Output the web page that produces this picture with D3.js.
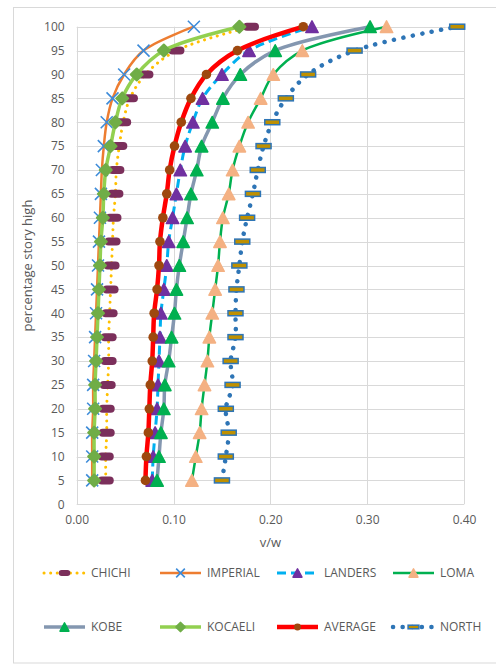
<!DOCTYPE html>
<html><head><meta charset="utf-8">
<script src="https://cdn.jsdelivr.net/npm/d3@7"></script>
<style>html,body{margin:0;padding:0;background:#fff;}svg{display:block;font-family:"Open Sans",sans-serif;}</style>
</head><body>
<svg id="c" width="496" height="665"></svg>
<script>
const heights = [5,10,15,20,25,30,35,40,45,50,55,60,65,70,75,80,85,90,95,100];
const chichi   = [0.030,0.030,0.031,0.031,0.032,0.033,0.033,0.034,0.035,0.036,0.037,0.038,0.040,0.041,0.044,0.048,0.055,0.071,0.103,0.180];
const imperial = [0.016,0.016,0.016,0.017,0.017,0.018,0.019,0.020,0.021,0.022,0.023,0.024,0.025,0.026,0.028,0.031,0.037,0.049,0.069,0.121];
const landers  = [0.078,0.079,0.081,0.083,0.084,0.085,0.086,0.087,0.090,0.093,0.095,0.099,0.103,0.107,0.112,0.120,0.130,0.150,0.178,0.243];
const loma     = [0.119,0.123,0.127,0.129,0.132,0.135,0.137,0.140,0.143,0.146,0.148,0.151,0.157,0.161,0.168,0.177,0.190,0.203,0.233,0.320];
const kobe     = [0.083,0.085,0.087,0.090,0.091,0.095,0.098,0.101,0.103,0.106,0.110,0.114,0.118,0.124,0.129,0.140,0.151,0.169,0.205,0.303];
const kocaeli  = [0.018,0.018,0.018,0.019,0.019,0.020,0.021,0.022,0.023,0.024,0.025,0.027,0.028,0.030,0.035,0.040,0.047,0.062,0.090,0.168];
const average  = [0.071,0.072,0.074,0.075,0.076,0.078,0.079,0.080,0.083,0.085,0.086,0.089,0.093,0.096,0.101,0.108,0.118,0.134,0.166,0.234];
const north    = [0.150,0.154,0.157,0.154,0.161,0.159,0.164,0.164,0.165,0.168,0.171,0.176,0.182,0.187,0.193,0.202,0.216,0.239,0.287,0.393];
const seriesNames = ["CHICHI","IMPERIAL","LANDERS","LOMA","KOBE","KOCAELI","AVERAGE","NORTH"];
const xTicks = [0,0.1,0.2,0.3,0.4];
const yTicks = [0,5,10,15,20,25,30,35,40,45,50,55,60,65,70,75,80,85,90,95,100];

const styles = {
  CHICHI:  {line:"#FFC000", w:3, dash:"0.1 6.5", cap:"round", marker:"pill", fill:"#7B2F5B"},
  IMPERIAL:{line:"#ED7D31", w:2.5, dash:null, marker:"x", fill:"#3D8BD9"},
  LANDERS: {line:"#00B0F0", w:3, dash:"9 5", marker:"tri", fill:"#7030A0"},
  LOMA:    {line:"#00B050", w:2.5, dash:null, marker:"tri", fill:"#F4B183"},
  KOBE:    {line:"#8497B0", w:3.5, dash:null, marker:"tri", fill:"#00B050"},
  KOCAELI: {line:"#92D050", w:3.5, dash:null, marker:"diamond", fill:"#70AD47"},
  AVERAGE: {line:"#FF0000", w:4.5, dash:null, marker:"circle", fill:"#9E480E"},
  NORTH:   {line:"#2E75B6", w:4.5, dash:"0.1 9.5", cap:"round", marker:"bar", fill:"#BF9000"}
};
const data = {CHICHI:chichi, IMPERIAL:imperial, LANDERS:landers, LOMA:loma, KOBE:kobe, KOCAELI:kocaeli, AVERAGE:average, NORTH:north};

const svg = d3.select("#c");
const x = d3.scaleLinear().domain([0,0.4]).range([76.7,464]);
const y = d3.scaleLinear().domain([0,100]).range([504.3,26.7]);

// chart frame
svg.append("rect").attr("x",13.5).attr("y",7.5).attr("width",600).attr("height",655.5)
  .attr("fill","none").attr("stroke","#D9D9D9").attr("stroke-width",1);

// gridlines
const g = svg.append("g");
g.selectAll(".hg").data(yTicks).join("line")
  .attr("x1",x(0)).attr("x2",x(0.4)).attr("y1",d=>Math.round(y(d))+0.5).attr("y2",d=>Math.round(y(d))+0.5)
  .attr("stroke","#D9D9D9").attr("stroke-width",1);
g.selectAll(".vg").data(xTicks).join("line")
  .attr("y1",y(0)).attr("y2",y(100)).attr("x1",d=>Math.round(x(d))+0.5).attr("x2",d=>Math.round(x(d))+0.5)
  .attr("stroke","#D9D9D9").attr("stroke-width",1);

// axes
const ya = svg.append("g").attr("transform",`translate(${x(0)},0)`)
  .call(d3.axisLeft(y).tickValues(yTicks).tickSize(0).tickPadding(12).tickFormat(d3.format("d")));
ya.select(".domain").remove();
const xa = svg.append("g").attr("transform",`translate(0,${y(0)})`)
  .call(d3.axisBottom(x).tickValues(xTicks).tickSize(0).tickPadding(11).tickFormat(d3.format(".2f")));
xa.select(".domain").remove();
svg.selectAll(".tick text").attr("fill","#595959").style("font-size","12px").style("font-family","'Open Sans',sans-serif");

svg.append("text").attr("x",(x(0)+x(0.4))/2).attr("y",547).attr("text-anchor","middle")
  .attr("fill","#595959").style("font-size","13px").text("v/w");
svg.append("text").attr("transform",`translate(32,${(y(0)+y(100))/2}) rotate(-90)`).attr("text-anchor","middle")
  .attr("fill","#595959").style("font-size","13px").text("percentage story high");

function drawMarker(sel, type, fill, cx, cy, scale){
  const s = scale||1;
  if(type==="pill"){
    sel.append("rect").attr("x",cx-8*s).attr("y",cy-4*s).attr("width",16*s).attr("height",8*s).attr("rx",4*s).attr("fill",fill);
  } else if(type==="x"){
    const r=6*s;
    sel.append("path").attr("d",`M${cx-r},${cy-r}L${cx+r},${cy+r}M${cx-r},${cy+r}L${cx+r},${cy-r}`)
      .attr("stroke",fill).attr("stroke-width",1.6).attr("fill","none");
  } else if(type==="tri"){
    const w=6.2*s, h=5.8*s;
    sel.append("path").attr("d",`M${cx},${cy-h}L${cx+w},${cy+h}L${cx-w},${cy+h}Z`).attr("fill",fill)
      .attr("stroke",fill).attr("stroke-width",1.5).attr("stroke-linejoin","round");
  } else if(type==="diamond"){
    const r=6*s;
    sel.append("path").attr("d",`M${cx},${cy-r}L${cx+r},${cy}L${cx},${cy+r}L${cx-r},${cy}Z`).attr("fill",fill)
      .attr("stroke",fill).attr("stroke-width",2).attr("stroke-linejoin","round");
  } else if(type==="circle"){
    sel.append("circle").attr("cx",cx).attr("cy",cy).attr("r",4.8*s).attr("fill",fill);
  } else if(type==="bar"){
    sel.append("rect").attr("x",cx-7.5*s).attr("y",cy-2.5*s).attr("width",15*s).attr("height",5*s)
      .attr("fill",fill).attr("stroke","#2E75B6").attr("stroke-width",1.5);
  }
}

const line = d3.line().x(d=>x(d[0])).y(d=>y(d[1])).curve(d3.curveCatmullRom.alpha(0.5));
const plot = svg.append("g");
seriesNames.forEach(name=>{
  const st = styles[name];
  const pts = data[name].map((v,i)=>[v,heights[i]]);
  const gg = plot.append("g");
  const p = gg.append("path").attr("d",line(pts)).attr("fill","none").attr("stroke",st.line)
    .attr("stroke-width",st.w).attr("stroke-linejoin","round");
  if(st.dash) p.attr("stroke-dasharray",st.dash);
  if(st.cap) p.attr("stroke-linecap",st.cap);
  pts.forEach(pt=>drawMarker(gg, st.marker, st.fill, x(pt[0]), y(pt[1])));
});

// legend
const legCols = [44,160,277,393];
const legRows = [573,627];
seriesNames.forEach((name,i)=>{
  const st = styles[name];
  const lx = legCols[i%4], ly = legRows[Math.floor(i/4)];
  const lg = svg.append("g");
  const p = lg.append("line").attr("x1",lx).attr("x2",lx+41).attr("y1",ly).attr("y2",ly)
    .attr("stroke",st.line).attr("stroke-width",st.w);
  if(st.dash) p.attr("stroke-dasharray",st.dash);
  if(st.cap) p.attr("stroke-linecap",st.cap);
  drawMarker(lg, st.marker, st.fill, lx+20.5, ly, 0.72);
  lg.append("text").attr("x",lx+47).attr("y",ly).attr("dy","0.35em").attr("fill","#595959")
    .style("font-size","12px").text(name);
});
</script>
</body></html>
